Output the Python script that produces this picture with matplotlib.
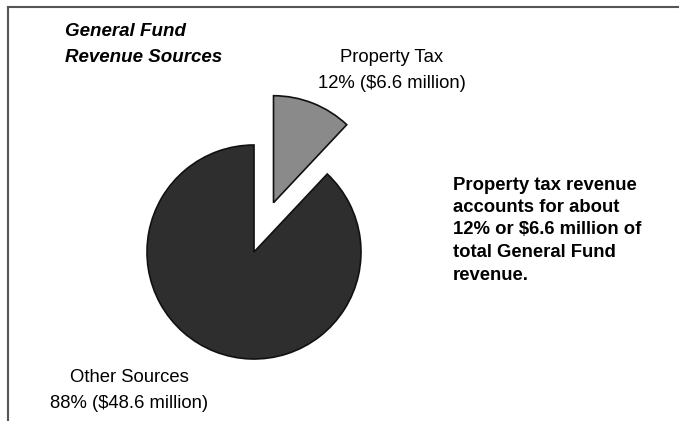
import matplotlib
matplotlib.use("Agg")
import matplotlib.pyplot as plt

labels = ["Property Tax", "Other Sources"]
shares = [12, 88]
amounts = [6.6, 48.6]
colors = ["#8a8a8a", "#2e2e2e"]

W, H = 684, 421
fig = plt.figure(figsize=(6.84, 4.21), dpi=100)
ax = fig.add_axes([0, 0, 1, 1])

plt.rcParams['font.family'] = ['Liberation Sans', 'DejaVu Sans']

# frame (top and left only)
ax.plot([8, 678], [H - 7, H - 7], color="#555555", lw=1.5)
ax.plot([8, 8], [H - 7, 0], color="#555555", lw=1.5)

ax.pie(shares, colors=colors, startangle=90, counterclock=False,
       center=(254, H - 252), radius=107, explode=[53, 0],
       wedgeprops=dict(edgecolor="#111111", linewidth=1.2), frame=True)
ax.set_xlim(0, W)
ax.set_ylim(0, H)
ax.set_aspect("auto")
ax.axis("off")

ax.text(65, H - 32, "General Fund", fontsize=13.5, fontweight="bold",
        fontstyle="italic", va="center", ha="left")
ax.text(65, H - 57, "Revenue Sources", fontsize=13.5, fontweight="bold",
        fontstyle="italic", va="center", ha="left")

ax.text(392, H - 58, labels[0], fontsize=13.3, ha="center", va="center")
ax.text(392, H - 83, f"{shares[0]}% (${amounts[0]} million)", fontsize=13.3,
        ha="center", va="center")
ax.text(129, H - 378, labels[1], fontsize=13.3, ha="center", va="center")
ax.text(129, H - 403, f"{shares[1]}% (${amounts[1]} million)", fontsize=13.3,
        ha="center", va="center")

note = ["Property tax revenue", "accounts for about",
        "12% or $6.6 million of", "total General Fund", "revenue."]
for i, line in enumerate(note):
    ax.text(453, H - 185 - i * 22.5, line, fontsize=13.3, fontweight="bold",
            ha="left", va="center")

fig.savefig("out.png", dpi=100)
